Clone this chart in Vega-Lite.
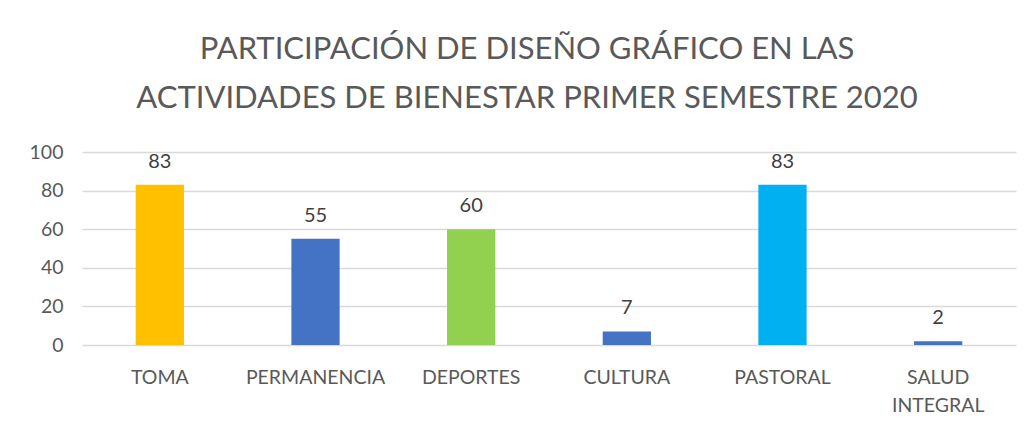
{
  "$schema": "https://vega.github.io/schema/vega-lite/v6.json",
  "autosize": "none",
  "width": 934,
  "height": 193,
  "padding": {"left": 82, "top": 152, "right": 18, "bottom": 85},
  "background": "white",
  "title": {
    "text": ["PARTICIPACIÓN DE DISEÑO GRÁFICO EN LAS", "ACTIVIDADES DE BIENESTAR PRIMER SEMESTRE 2020"],
    "font": "Lato",
    "fontSize": 31,
    "fontWeight": "normal",
    "color": "#595959",
    "lineHeight": 49,
    "anchor": "middle",
    "dx": -22,
    "offset": 27
  },
  "data": {
    "values": [
      {"cat": "TOMA", "val": 83, "color": "#FFC000"},
      {"cat": "PERMANENCIA", "val": 55, "color": "#4472C4"},
      {"cat": "DEPORTES", "val": 60, "color": "#92D050"},
      {"cat": "CULTURA", "val": 7, "color": "#4472C4"},
      {"cat": "PASTORAL", "val": 83, "color": "#00B0F0"},
      {"cat": "SALUD INTEGRAL", "val": 2, "color": "#4472C4"}
    ]
  },
  "encoding": {
    "x": {
      "field": "cat", "type": "nominal", "sort": null,
      "scale": {"paddingInner": 0.69, "paddingOuter": 0.345},
      "axis": {
        "title": null, "labelAngle": 0, "ticks": false, "domain": false,
        "labelFont": "Lato", "labelFontSize": 19.5, "labelColor": "#595959",
        "labelPadding": 23, "labelLineHeight": 28, "labelOverlap": false,
        "labelExpr": "datum.label == 'SALUD INTEGRAL' ? ['SALUD', 'INTEGRAL'] : datum.label"
      }
    },
    "y": {
      "field": "val", "type": "quantitative",
      "scale": {"domain": [0, 100]},
      "axis": {
        "title": null, "values": [0, 20, 40, 60, 80, 100],
        "ticks": false, "domain": false, "labelOverlap": false,
        "gridColor": "#d9d9d9", "gridWidth": 1.3,
        "labelFont": "Lato", "labelFontSize": 19.5, "labelColor": "#595959",
        "labelPadding": 19
      }
    }
  },
  "layer": [
    {
      "mark": {"type": "bar"},
      "encoding": {"color": {"field": "color", "type": "nominal", "scale": null}}
    },
    {
      "mark": {"type": "text", "baseline": "bottom", "dy": -13, "font": "Lato", "fontSize": 20, "color": "#404040"},
      "encoding": {"text": {"field": "val", "type": "quantitative"}}
    }
  ],
  "config": {"view": {"stroke": null}}
}
